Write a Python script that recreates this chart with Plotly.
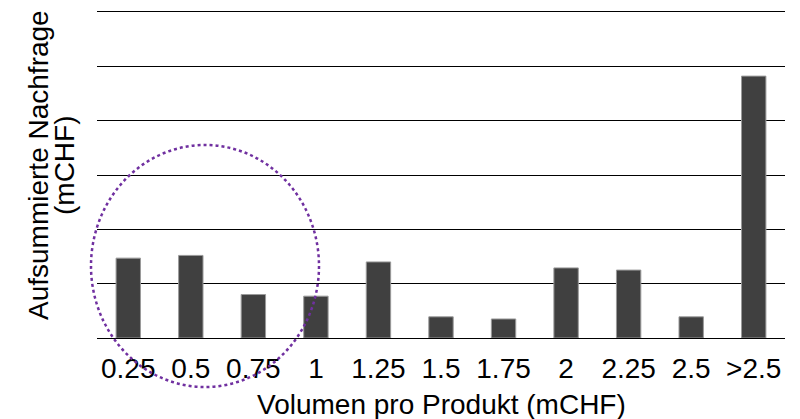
import plotly.graph_objects as go

categories = ["0.25", "0.5", "0.75", "1", "1.25", "1.5", "1.75", "2", "2.25", "2.5", ">2.5"]
values = [1.47, 1.52, 0.80, 0.77, 1.40, 0.39, 0.35, 1.29, 1.25, 0.39, 4.82]

x_title = "Volumen pro Produkt (mCHF)"
y_title_lines = ["Aufsummierte Nachfrage", "(mCHF)"]

fig = go.Figure()
fig.add_trace(go.Bar(
    x=categories, y=values,
    marker=dict(color="#404040", line=dict(color="#9a9a9a", width=1)),
))

fam = "Liberation Sans, Arial, sans-serif"
tickfont = dict(family=fam, size=28, color="black")
titlefont = dict(family=fam, size=28, color="black")

# page body has an 8px margin: figure origin sits at (8, 8) in the screenshot
OFF = 8
W, H = 800 - OFF, 419 - OFF
plot_l, plot_r, plot_t, plot_b = 97, 785, 12, 338  # screenshot pixels
L = plot_l - OFF
T = plot_t - OFF
R = W - (plot_r - OFF)
B = H - (plot_b - OFF)
pw, ph = plot_r - plot_l, plot_b - plot_t

def px_x(p):
    return (p - plot_l) / pw

def px_y(p):
    return (plot_b - p) / ph

fig.update_layout(
    width=W, height=H,
    margin=dict(l=L, r=R, t=T, b=B, autoexpand=False),
    paper_bgcolor="white", plot_bgcolor="white",
    bargap=0.61,
    showlegend=False,
    xaxis=dict(
        type="category",
        showgrid=False, ticks="",
        showline=True, mirror=True, linecolor="black", linewidth=1.3,
        tickfont=tickfont, automargin=False, ticklabelstandoff=5,
    ),
    yaxis=dict(
        range=[0, 6], dtick=1, tick0=0,
        showgrid=True, gridcolor="black", gridwidth=1.3,
        zeroline=False, showline=False,
        showticklabels=False, ticks="", automargin=False,
    ),
    annotations=[
        dict(text=x_title, xref="paper", yref="paper", x=0.5, y=px_y(404),
             xanchor="center", yanchor="middle", showarrow=False, font=titlefont),
        dict(text=y_title_lines[0], xref="paper", yref="paper", x=px_x(39), y=px_y(165),
             xanchor="center", yanchor="middle", showarrow=False, font=titlefont, textangle=-90),
        dict(text=y_title_lines[1], xref="paper", yref="paper", x=px_x(65), y=px_y(165),
             xanchor="center", yanchor="middle", showarrow=False, font=titlefont, textangle=-90),
    ],
    shapes=[dict(
        type="circle", xref="paper", yref="paper",
        x0=px_x(91), x1=px_x(319), y0=px_y(387), y1=px_y(145),
        line=dict(color="#7030A0", width=2.5, dash="dot"),
    )],
)

fig.write_html("out.html")
